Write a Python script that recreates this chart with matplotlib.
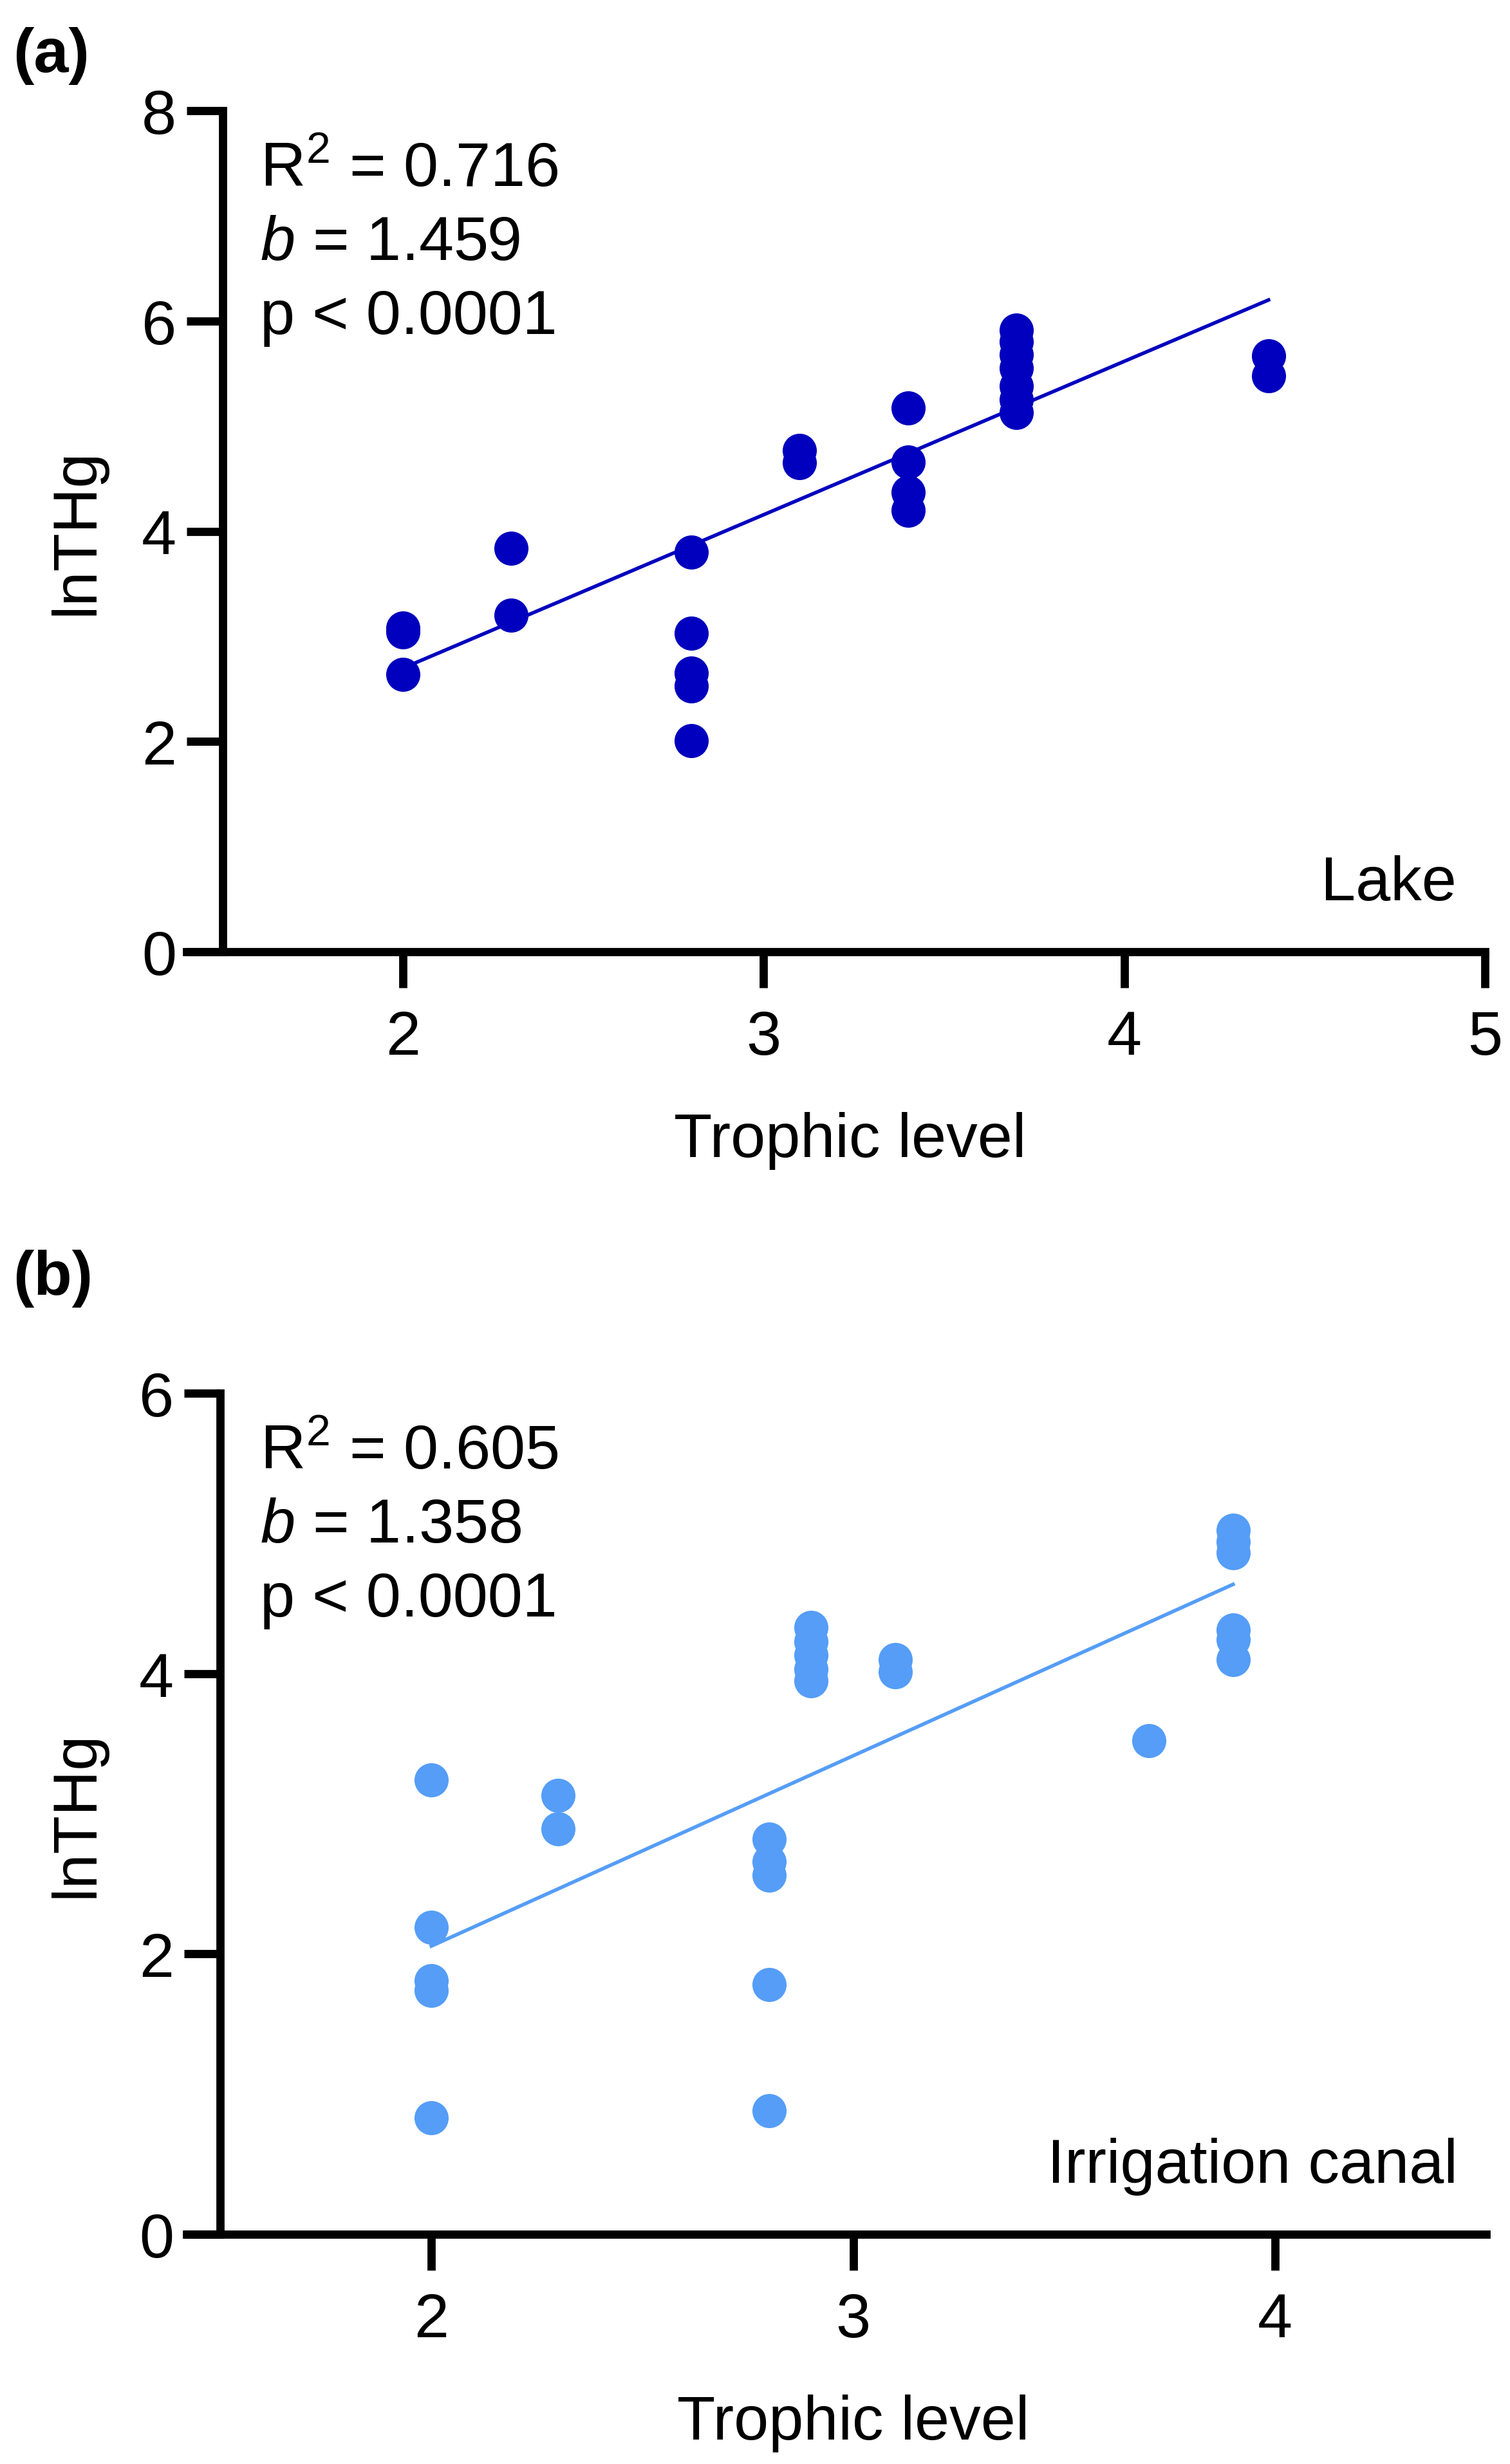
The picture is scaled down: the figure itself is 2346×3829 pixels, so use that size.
import numpy as np
import matplotlib
matplotlib.use("Agg")
import matplotlib.pyplot as plt

plt.rcParams['font.family'] = ['Liberation Sans', 'DejaVu Sans']
plt.rcParams['mathtext.fontset'] = 'custom'
plt.rcParams['mathtext.rm'] = 'Liberation Sans'
plt.rcParams['mathtext.it'] = 'Liberation Sans:italic'

# (a) Lake
lake_tl = [2.0, 2.0, 2.0, 2.3, 2.3, 2.8, 2.8, 2.8, 2.8, 2.8, 3.1, 3.1,
           3.4, 3.4, 3.4, 3.4, 3.7, 3.7, 3.7, 3.7, 3.7, 3.7, 3.7, 4.4, 4.4]
lake_thg = [3.08, 3.04, 2.64, 3.84, 3.20, 3.80, 3.03, 2.65, 2.53, 2.01, 4.77, 4.65,
            5.17, 4.66, 4.37, 4.20, 5.91, 5.80, 5.68, 5.55, 5.38, 5.25, 5.13, 5.67, 5.48]
lake_slope, lake_intercept = 1.459, -0.22
lake_stats = ['R$^2$ = 0.716', r'$\it{b}$ = 1.459', 'p < 0.0001']

# (b) Irrigation canal
canal_tl = [2.0, 2.0, 2.0, 2.0, 2.0, 2.3, 2.3, 2.8, 2.8, 2.8, 2.8, 2.8,
            2.9, 2.9, 2.9, 2.9, 2.9, 3.1, 3.1, 3.7, 3.9, 3.9, 3.9, 3.9, 3.9, 3.9]
canal_thg = [3.24, 2.19, 1.81, 1.74, 0.83, 3.13, 2.89, 2.82, 2.66, 2.56, 1.78, 0.88,
             4.33, 4.23, 4.13, 4.03, 3.95, 4.10, 4.01, 3.52, 5.02, 4.94, 4.86, 4.31, 4.24, 4.10]
canal_slope, canal_intercept = 1.358, -0.66
canal_stats = ['R$^2$ = 0.605', r'$\it{b}$ = 1.358', 'p < 0.0001']

W, H = 2346, 3830
dpi = 200
fig = plt.figure(figsize=(W / dpi, H / dpi), dpi=dpi)

lw_axis = 4.6
fs = 35


def panel(rect, tl, thg, slope, intercept, stats, site, color, xlim, ylim, xticks, yticks, xlab_x):
    ax = fig.add_axes(rect)
    ax.scatter(tl, thg, s=365, color=color, linewidths=0, zorder=3, clip_on=False)
    xs = np.array([min(tl), max(tl)])
    ax.plot(xs, slope * xs + intercept, color=color, lw=2.0, zorder=2)

    ax.set_xlim(*xlim)
    ax.set_ylim(*ylim)
    ax.set_xticks(xticks)
    ax.set_yticks(yticks)
    ax.spines['top'].set_visible(False)
    ax.spines['right'].set_visible(False)
    ax.spines['left'].set_position(('data', 1.5))
    for s in ('left', 'bottom'):
        ax.spines[s].set_linewidth(lw_axis)
    ax.tick_params(axis='both', length=20, width=lw_axis, labelsize=fs)
    ax.tick_params(axis='x', pad=12)
    ax.tick_params(axis='y', pad=6)

    ax.set_xlabel('Trophic level', fontsize=fs)
    ax.xaxis.set_label_coords(xlab_x, -0.19)
    ax.set_ylabel('lnTHg', fontsize=fs)
    ax.yaxis.set_label_coords(-0.062, 0.5)

    for txt, yb in zip(stats, [0.911, 0.823, 0.735]):
        ax.text(0.0565, yb, txt, transform=ax.transAxes, fontsize=fs,
                ha='left', va='baseline')
    ax.text(0.978, 0.062, site, transform=ax.transAxes, fontsize=fs,
            ha='right', va='baseline')
    return ax


panel([290 / W, 1 - 1480 / H, 2017 / W, 1307 / H], lake_tl, lake_thg,
      lake_slope, lake_intercept, lake_stats, 'Lake', '#0000BE',
      (1.4, 5.0), (0, 8), [2, 3, 4, 5], [0, 2, 4, 6, 8], 0.511)

panel([290 / W, 1 - 3473 / H, 2019 / W, 1307 / H], canal_tl, canal_thg,
      canal_slope, canal_intercept, canal_stats, 'Irrigation canal', '#559DF7',
      (1.42, 4.5), (0, 6), [2, 3, 4], [0, 2, 4, 6], 0.513)

fig.text(20 / W, 1 - 112 / H, '(a)', fontsize=fs, fontweight='bold', va='baseline')
fig.text(20 / W, 1 - 2012 / H, '(b)', fontsize=fs, fontweight='bold', va='baseline')

fig.savefig('out.png', dpi=dpi, facecolor='white')
